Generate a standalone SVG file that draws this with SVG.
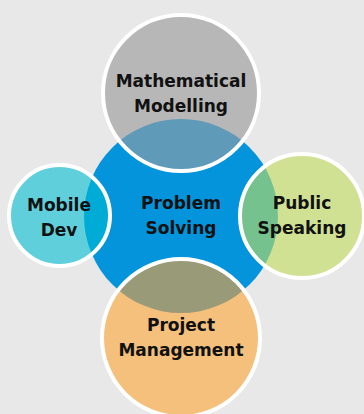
<svg xmlns="http://www.w3.org/2000/svg" width="364" height="414" viewBox="0 0 364 414">
  <defs>
    <clipPath id="cpTop"><circle cx="181" cy="93" r="78"/></clipPath>
    <clipPath id="cpLeft"><circle cx="59.5" cy="215.5" r="50.5"/></clipPath>
    <clipPath id="cpRight"><circle cx="302" cy="216" r="62"/></clipPath>
    <clipPath id="cpBottom"><circle cx="181" cy="338" r="79"/></clipPath>
  </defs>
  <style>
    .ring { fill: none; stroke: #ffffff; stroke-width: 4; }
    .lbl { font-family: "DejaVu Sans", "Open Sans", sans-serif; font-weight: 700; font-size: 17px; fill: #111111; text-anchor: middle; }
  </style>
  <rect x="0" y="0" width="364" height="414" fill="#e8e8e8"/>
  <g id="center">
    <circle cx="181" cy="216" r="97" fill="#0394dc"/>
  </g>
  <g id="connectors"></g>
  <g id="top">
    <circle cx="181" cy="93" r="78" fill="#b7b7b7"/>
    <circle cx="181" cy="216" r="97" fill="#5f9ab8" clip-path="url(#cpTop)"/>
    <circle cx="181" cy="93" r="78" class="ring"/>
    <text class="lbl" x="181" y="87">Mathematical</text>
    <text class="lbl" x="181" y="112">Modelling</text>
  </g>
  <g id="left">
    <circle cx="59.5" cy="215.5" r="50.5" fill="#5fcfdc"/>
    <circle cx="181" cy="216" r="97" fill="#00abd6" clip-path="url(#cpLeft)"/>
    <circle cx="59.5" cy="215.5" r="50.5" class="ring"/>
    <text class="lbl" x="59" y="211">Mobile</text>
    <text class="lbl" x="59" y="236">Dev</text>
  </g>
  <g id="right">
    <circle cx="302" cy="216" r="62" fill="#d1e193"/>
    <circle cx="181" cy="216" r="97" fill="#76c28f" clip-path="url(#cpRight)"/>
    <circle cx="302" cy="216" r="62" class="ring"/>
    <text class="lbl" x="302" y="209">Public</text>
    <text class="lbl" x="302" y="234">Speaking</text>
  </g>
  <g id="bottom">
    <circle cx="181" cy="338" r="79" fill="#f4c07c"/>
    <circle cx="181" cy="216" r="97" fill="#999b78" clip-path="url(#cpBottom)"/>
    <circle cx="181" cy="338" r="79" class="ring"/>
    <text class="lbl" x="181" y="331">Project</text>
    <text class="lbl" x="181" y="356">Management</text>
  </g>
  <g id="centerLabel">
    <text class="lbl" x="181" y="209">Problem</text>
    <text class="lbl" x="181" y="234">Solving</text>
  </g>
</svg>
